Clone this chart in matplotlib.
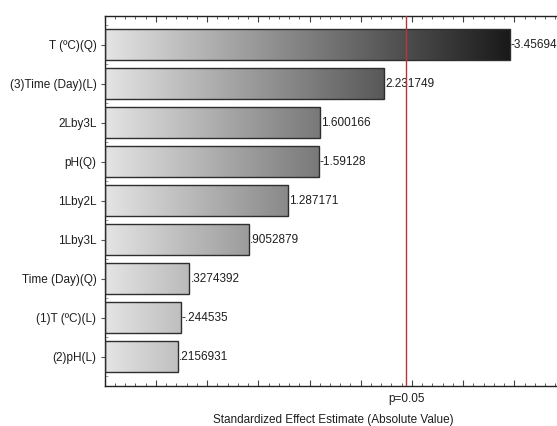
import matplotlib
matplotlib.use('Agg')
import matplotlib.pyplot as plt
import numpy as np
from matplotlib.colors import LinearSegmentedColormap
from matplotlib.ticker import MultipleLocator, FixedLocator

plt.rcParams['font.family'] = ['Liberation Sans', 'DejaVu Sans']

# Pareto chart of standardized effects, largest first
terms = ['T (ºC)(Q)', '(3)Time (Day)(L)', '2Lby3L', 'pH(Q)', '1Lby2L',
         '1Lby3L', 'Time (Day)(Q)', '(1)T (ºC)(L)', '(2)pH(L)']
effects = [-3.45694, 2.231749, 1.600166, -1.59128, 1.287171,
           0.9052879, 0.3274392, -0.244535, 0.2156931]
t_crit = 2.446912  # p=0.05, df=6


def stat_fmt(v):
    # Statistica style: no leading zero before the decimal point
    s = str(v)
    return s.replace('-0.', '-.') if s.startswith('-0.') else (s[1:] if s.startswith('0.') else s)


fig = plt.figure(figsize=(5.57, 4.26), dpi=100)
ax = fig.add_axes([0.188, 0.0946, 0.8273, 0.868])

xmin, xmax = -0.5, 4.0
ypos = np.arange(len(terms))
gray = LinearSegmentedColormap.from_list('g', ['#e4e4e4', '#141414'])
grad = np.linspace(0, 1, 256).reshape(1, -1)

for y, v in zip(ypos, effects):
    w = abs(v)
    bar = ax.barh(y, w - xmin, left=xmin, height=0.8, facecolor='none',
                  edgecolor='#2e2e2e', linewidth=1.0, zorder=3)[0]
    im = ax.imshow(grad, cmap=gray, aspect='auto', extent=(xmin, 3.55, y + 0.4, y - 0.4),
                   zorder=2, interpolation='bilinear')
    im.set_clip_path(bar)
    ax.text(w + 0.01, y, stat_fmt(v), va='center', ha='left',
            fontsize=8.5, color='#1e1e1e', zorder=4)

ax.axvline(t_crit, color='#c2303c', linewidth=1.0, zorder=5)
ax.text(t_crit, -0.036, 'p=0.05', transform=ax.get_xaxis_transform(),
        ha='center', va='center', fontsize=8.5, color='#1e1e1e')

ax.set_xlim(xmin, xmax)
ax.set_ylim(len(terms) - 0.26, -0.74)
ax.set_yticks(ypos)
ax.set_yticklabels(terms, fontsize=8.5, color='#1e1e1e')
ax.yaxis.set_minor_locator(FixedLocator(np.arange(-0.5, len(terms), 0.25)))
ax.tick_params(axis='y', which='major', direction='out', length=3, width=0.8,
               color='#555555', pad=3)
ax.tick_params(axis='y', which='minor', direction='in', length=2, width=0.6,
               color='#888888')

ax.xaxis.set_major_locator(MultipleLocator(0.5))
ax.xaxis.set_minor_locator(MultipleLocator(0.1))
ax.tick_params(axis='x', which='both', direction='in', top=True, labelbottom=False,
               color='#444444')
ax.tick_params(axis='x', which='major', length=4, width=0.8)
ax.tick_params(axis='x', which='minor', length=2, width=0.6)

for side in ('left', 'bottom', 'top'):
    ax.spines[side].set_color('#222222')
    ax.spines[side].set_linewidth(1.0)
ax.spines['right'].set_visible(False)

fig.text(0.598, 0.015, 'Standardized Effect Estimate (Absolute Value)',
         ha='center', va='center', fontsize=8.5, color='#1e1e1e')

fig.savefig('out.png', dpi=100, facecolor='white')
